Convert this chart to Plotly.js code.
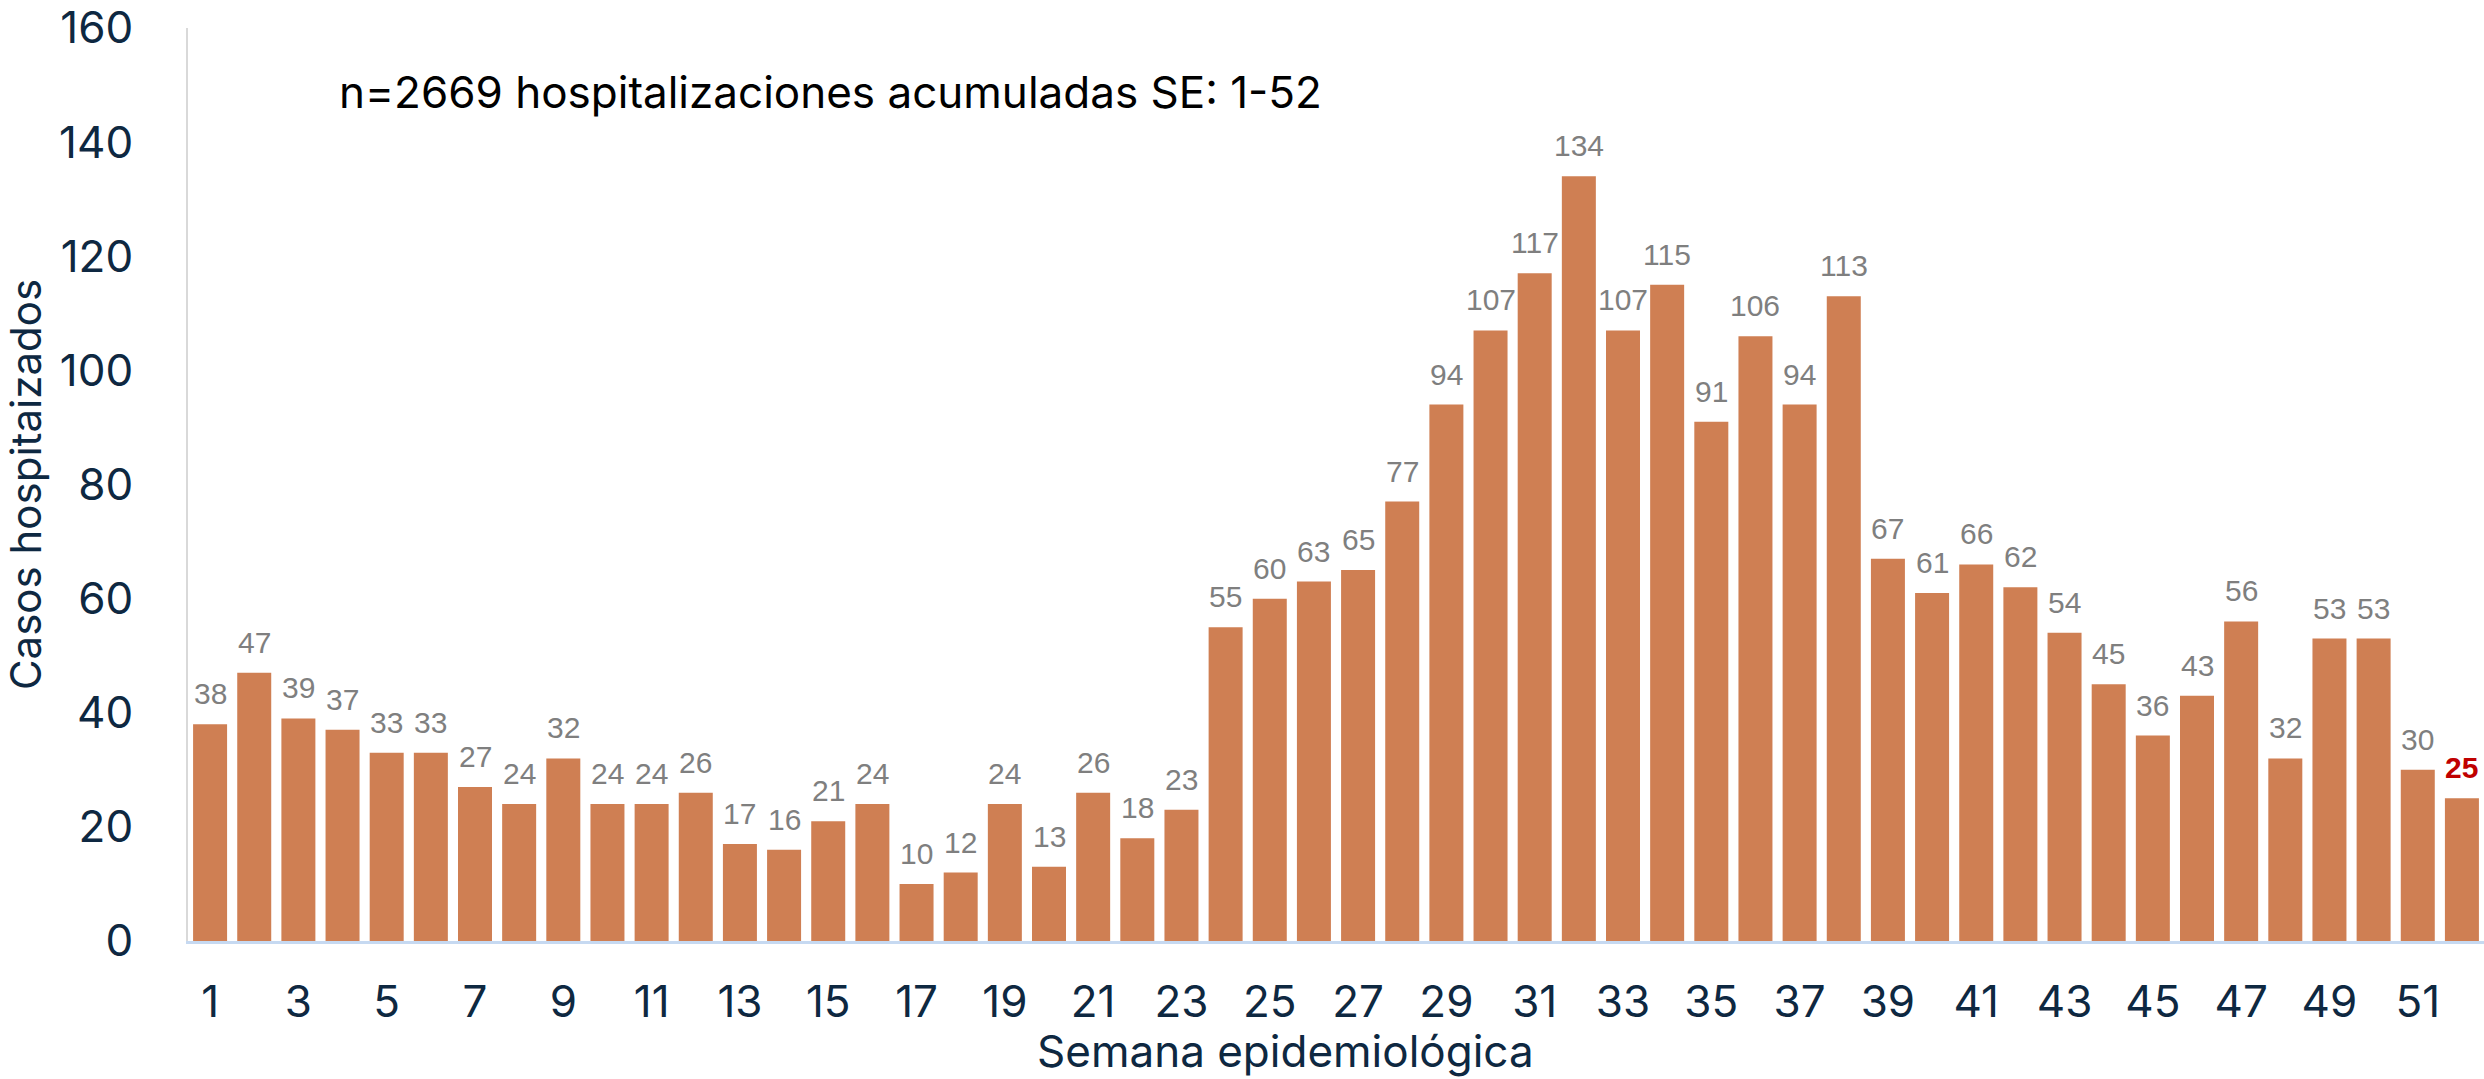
<!DOCTYPE html>
<html>
<head>
<meta charset="utf-8">
<script src="https://cdn.plot.ly/plotly-3.0.1.min.js"></script>
<style>
  html, body { margin: 0; padding: 0; background: #ffffff; }
  #chart { width: 2484px; height: 1079px; }
</style>
</head>
<body>
<div id="chart"></div>
<script>
// ---- data ----
var semanas = [1,2,3,4,5,6,7,8,9,10,11,12,13,14,15,16,17,18,19,20,21,22,23,24,25,26,
               27,28,29,30,31,32,33,34,35,36,37,38,39,40,41,42,43,44,45,46,47,48,49,50,51,52];
var casos = [38,47,39,37,33,33,27,24,32,24,24,26,17,16,21,24,10,12,24,13,26,18,23,55,60,63,
             65,77,94,107,117,134,107,115,91,106,94,113,67,61,66,62,54,45,36,43,56,32,53,53,30,25];
var xTickVals = [1,3,5,7,9,11,13,15,17,19,21,23,25,27,29,31,33,35,37,39,41,43,45,47,49,51];
var yTickVals = [0,20,40,60,80,100,120,140,160];
var tituloX = "Semana epidemiológica";
var tituloY = "Casos hospitaizados";
var nota = "n=2669 hospitalizaciones acumuladas SE: 1-52";

var navy = "#0E2841";
var barColor = "#CF7F53";
var labelGray = "#7F7F7F";

var trace = {
  type: "bar",
  x: semanas,
  y: casos,
  marker: { color: barColor, line: { width: 0 } },
  hoverinfo: "x+y",
  showlegend: false
};

var annotations = [];
for (var i = 0; i < semanas.length; i++) {
  var last = (i === semanas.length - 1);
  annotations.push({
    x: semanas[i], y: casos[i], xref: "x", yref: "y",
    text: last ? "<b>" + casos[i] + "</b>" : String(casos[i]),
    showarrow: false, xanchor: "center", yanchor: "bottom", yshift: 12,
    font: { family: "Liberation Sans, Arial, sans-serif", size: 30, color: last ? "#C00000" : labelGray }
  });
}
annotations.push({
  text: nota, xref: "paper", yref: "paper", x: 0.0649, y: 0.930,
  xanchor: "left", yanchor: "middle", showarrow: false,
  font: { family: "Inter, sans-serif", size: 44, color: "#000000" }
});
annotations.push({
  text: tituloX, xref: "paper", yref: "paper", x: 0.4778, y: -0.120,
  xanchor: "center", yanchor: "middle", showarrow: false,
  font: { family: "Inter, sans-serif", size: 44, color: navy }
});

var layout = {
  width: 2484, height: 1079,
  margin: { l: 188, r: 0, t: 28, b: 138, pad: 0 },
  paper_bgcolor: "#ffffff", plot_bgcolor: "#ffffff",
  bargap: 0.23,
  xaxis: {
    range: [0.5, 52.5], tickmode: "array", tickvals: xTickVals,
    ticks: "", ticklabelstandoff: 20,
    tickfont: { family: "Inter, sans-serif", size: 44, color: navy },
    showgrid: false, zeroline: false,
    showline: true, linecolor: "#C6D9F1", linewidth: 3
  },
  yaxis: {
    range: [0, 160], tickmode: "array", tickvals: yTickVals,
    ticks: "", ticklabelstandoff: 44,
    tickfont: { family: "Inter, sans-serif", size: 44, color: navy },
    showgrid: false, zeroline: false,
    showline: true, linecolor: "#D9D9D9", linewidth: 2,
    title: { text: tituloY, standoff: 8, font: { family: "Inter, sans-serif", size: 42, color: navy } }
  },
  annotations: annotations,
  font: { family: "Inter, sans-serif" }
};

Plotly.newPlot("chart", [trace], layout, { displayModeBar: false, staticPlot: true });
</script>
</body>
</html>
